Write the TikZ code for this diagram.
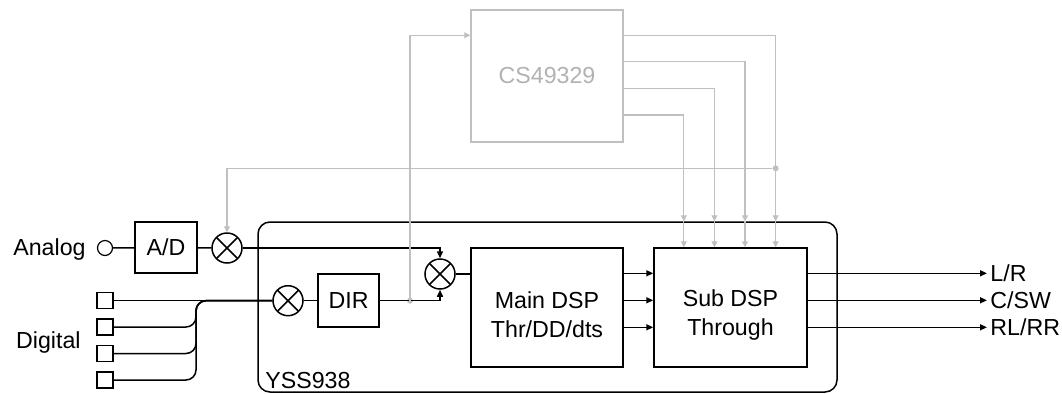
\documentclass[tikz,border=0pt]{standalone}
\usepackage{fontspec}
\setmainfont{Liberation Sans}
\usetikzlibrary{arrows.meta}
\definecolor{ctlgray}{RGB}{192,192,192}
\definecolor{csgray}{RGB}{178,178,178}
\newcommand{\blockfont}{\fontsize{11.6}{14.5}\selectfont}

\begin{document}
\begin{tikzpicture}[x=0.5pt, y=-0.5pt,
    every node/.style={font=\blockfont},
    block/.style={draw, line width=0.75pt, inner sep=0pt, align=center},
    dspbox/.style={block, minimum width=76pt, minimum height=59.5pt, text height=30pt},
    mixer/.style={draw, circle, line width=0.75pt, minimum size=15pt, inner sep=0pt,
        path picture={\draw[line width=0.75pt]
            (path picture bounding box.north west) -- (path picture bounding box.south east)
            (path picture bounding box.south west) -- (path picture bounding box.north east);}},
    jack/.style={draw, circle, line width=0.6pt, minimum size=7.5pt, inner sep=0pt},
    port/.style={draw, line width=0.6pt, minimum size=8pt, inner sep=0pt},
    chip/.style={draw, line width=0.75pt, rounded corners=6pt, inner sep=0pt},
    sig/.style={line width=0.75pt},
    sigarrow/.style={sig, -{Triangle[length=3.5pt,width=3pt]}},
    ctl/.style={draw=ctlgray, line width=0.6pt},
    ctlarrow/.style={ctl, -{Triangle[length=3pt,width=3pt]}},
    dot/.style={circle, fill=ctlgray, minimum size=3pt, inner sep=0pt}
  ]
  \useasboundingbox (0,0) rectangle (1062,393);

  % chip outline
  \node[chip, minimum width=289.5pt, minimum height=85pt] (chip) at (547.5,307) {};
  \node[anchor=base west, inner sep=0pt] (chiplbl) at (265,388) {YSS938};

  % analog input
  \node[anchor=base east, inner sep=0pt] (analoglbl) at (86,255) {Analog};
  \node[jack] (jack) at (105,248) {};
  \node[block, minimum width=31pt, minimum height=25.5pt] (ad) at (166,247.5) {A/D};
  \node[mixer] (mixA) at (227,248) {};

  % digital inputs
  \node[anchor=base east, inner sep=0pt] (digitallbl) at (81,348.3) {Digital};
  \foreach \i/\y in {1/300.7, 2/327, 3/353.5, 4/380}
    \node[port] (d\i) at (105,\y) {};
  \coordinate (merge) at (196,300.7);
  \node[mixer] (mixD) at (288,300.7) {};
  \node[block, minimum width=30.5pt, minimum height=26.5pt] (dir) at (348.7,300.7) {DIR};
  \node[dot] (jct) at (410,300.7) {};
  \node[mixer] (mixS) at (440,274) {};

  % DSP blocks
  \node[dspbox] (main) at (547,307.5) {Main DSP\\Thr/DD/dts};
  \node[dspbox, minimum width=76.5pt] (sub) at (730.5,307.5) {Sub DSP\\Through};
  \node[block, draw=ctlgray, text=csgray, minimum width=76pt, minimum height=66pt] (cs) at (547,76) {CS49329};

  % outputs
  \foreach \n/\y/\t in {lr/273.3/L\slash R, csw/300.3/C\slash SW, rear/327.3/RL\slash RR} {
    \coordinate (\n) at (987,\y);
    \node[anchor=west, inner sep=1.5pt] (\n lbl) at (\n) {\t};
  }

  % signal path
  \draw[sig] (jack) -- (ad) -- (mixA);
  \draw[sigarrow] (mixA.east) -| (mixS.north);
  \draw[sig] (d1.east) -- (mixD.west);
  \foreach \i in {2,3,4}
    \draw[sig, rounded corners=5pt] (d\i.east) -| (merge) -- (mixD.west);
  \draw[sig] (mixD) -- (dir);
  \draw[sigarrow] (dir.east) -- (jct.center) -| (mixS.south);
  \draw[sig] (mixS.east) -- (mixS.east -| main.west);
  \foreach \n in {lr, csw, rear} {
    \draw[sigarrow] (\n -| main.east) -- (\n -| sub.west);
    \draw[sigarrow] (\n -| sub.east) -- (\n);
  }

  % CS49329 control path
  \draw[ctlarrow] (jct.center) |- ([yshift=-13pt]cs.north west);
  \foreach \i in {1,...,4} {
    \coordinate (out\i) at ([yshift={-13.3pt*\i+0.3pt}]cs.north east);
    \coordinate (in\i) at ([xshift={(76.5-15.3*\i)*1pt}]sub.north west);
    \draw[ctlarrow] (out\i) -| (in\i |- chip.north);
    \draw[ctlarrow] (in\i |- chip.north) -- (in\i);
  }
  \node[dot] (tap) at (in1 |- 0,168.3) {};
  \draw[ctlarrow] (tap) -| (mixA.north);
\end{tikzpicture}
\end{document}
